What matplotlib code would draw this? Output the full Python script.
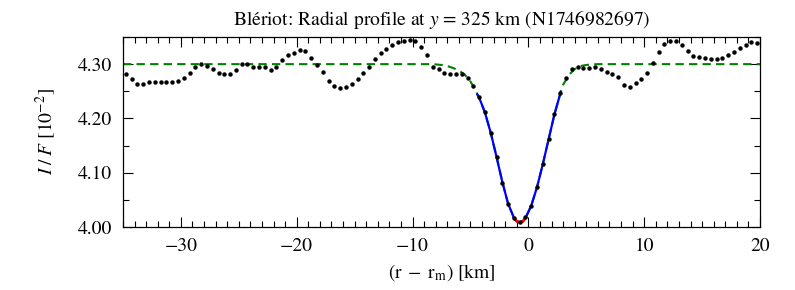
import matplotlib
matplotlib.use("Agg")
from matplotlib import pyplot as plt
from matplotlib.ticker import MultipleLocator, FormatStrFormatter
import numpy as np

plt.rcParams['font.family'] = ['STIXGeneral', 'Liberation Serif', 'DejaVu Serif']
plt.rcParams['mathtext.fontset'] = 'stix'
plt.rcParams['axes.unicode_minus'] = True

# radial profile samples, every 0.5 km starting at -34.75 km
r_start = -34.75
r_step = 0.5
profile = [
    4.2816, 4.2724, 4.2632, 4.2632, 4.2663, 4.2663, 4.2663, 4.2663, 4.2670, 4.2693,
    4.2742, 4.2829, 4.2939, 4.2995, 4.2963, 4.2902, 4.2840, 4.2822, 4.2816, 4.2896,
    4.2995, 4.3007, 4.2951, 4.2951, 4.2939, 4.2890, 4.2939, 4.3074, 4.3166, 4.3200,
    4.3260, 4.3245, 4.3120, 4.2985, 4.2850, 4.2693, 4.2595, 4.2564, 4.2571, 4.2632,
    4.2724, 4.2840, 4.2951, 4.3098, 4.3203, 4.3276, 4.3350, 4.3411, 4.3423, 4.3442,
    4.3429, 4.3307, 4.3166, 4.2939, 4.2905, 4.2840, 4.2810, 4.2810, 4.2816, 4.2737,
    4.2595, 4.2398, 4.2122, 4.1736, 4.1294, 4.0815, 4.0423, 4.0171, 4.0086, 4.0177,
    4.0392, 4.0734, 4.1160, 4.1620, 4.2080, 4.2467, 4.2746, 4.2912, 4.2948, 4.2935,
    4.2935, 4.2951, 4.2902, 4.2847, 4.2816, 4.2755, 4.2614, 4.2571, 4.2645, 4.2730,
    4.2840, 4.3024, 4.3227, 4.3368, 4.3429, 4.3429, 4.3350, 4.3245, 4.3153, 4.3123,
    4.3111, 4.3098, 4.3086, 4.3117, 4.3166, 4.3227, 4.3301, 4.3350, 4.3399, 4.3381,
]

# fitted crater profile (blue)
fit_x = [-4.4, -4.25, -3.75, -3.25, -2.75, -2.25, -1.75, -1.25, -1.0, -0.75,
         -0.5, -0.25, 0.25, 0.75, 1.25, 1.75, 2.25, 2.8]
fit_y = [4.2440, 4.2385, 4.2110, 4.1736, 4.1294, 4.0830, 4.0430, 4.0170, 4.0105, 4.0085,
         4.0100, 4.0165, 4.0395, 4.0736, 4.1160, 4.1620, 4.2075, 4.2490]

# minimum region (red)
min_x = [-1.25, -1.0, -0.75, -0.5, -0.2]
min_y = [4.0170, 4.0105, 4.0085, 4.0100, 4.0175]

# model outside the fit window (green dashed)
left_x = [-35.0, -8.5, -8.0, -7.5, -7.0, -6.5, -6.0, -5.5, -5.0, -4.5]
left_y = [4.300, 4.300, 4.2995, 4.2985, 4.2965, 4.2930, 4.2880, 4.2810, 4.2680, 4.2500]
right_x = [3.0, 3.5, 4.0, 4.5, 5.0, 5.5, 6.0, 20.0]
right_y = [4.2620, 4.2800, 4.2910, 4.2965, 4.2985, 4.2995, 4.300, 4.300]

r = r_start + r_step * np.arange(len(profile))
model_x = left_x + fit_x + right_x
model_y = left_y + fit_y + right_y

fig = plt.figure(figsize=(7.95, 2.9), dpi=100)
ax = fig.add_axes([0.1547, 0.2172, 0.8013, 0.6552])

ax.plot(model_x, model_y, color='green', lw=1.5, dashes=(4, 2.5), zorder=2)
ax.plot(fit_x, fit_y, color='blue', lw=1.6, zorder=3)
ax.plot(min_x, min_y, color='red', lw=2.0, zorder=4)
ax.plot(r, profile, 'o', color='black', ms=3.2, mec='none', zorder=5)

ax.set_xlim(-35, 20)
ax.set_ylim(4.00, 4.35)
ax.xaxis.set_major_locator(MultipleLocator(10))
ax.xaxis.set_minor_locator(MultipleLocator(1))
ax.yaxis.set_major_locator(MultipleLocator(0.1))
ax.yaxis.set_minor_locator(MultipleLocator(0.05))
ax.yaxis.set_major_formatter(FormatStrFormatter('%.2f'))
ax.tick_params(which='both', direction='in', top=True, right=True, labelsize=14)
ax.tick_params(which='major', length=7, width=0.8, pad=8)
ax.tick_params(which='minor', length=4, width=0.8)
for s in ax.spines.values():
    s.set_linewidth(0.9)

ax.set_xlabel(r'$(\mathrm{r}\;-\;\mathrm{r}_\mathrm{m})$ [km]', fontsize=14, labelpad=5)
ax.set_ylabel(r'$I\;/\;F$ [$10^{-2}$]', fontsize=14, labelpad=14)
ax.set_title(r'Blériot: Radial profile at $y$ = 325 km (N1746982697)', fontsize=14, pad=9)

fig.savefig('out.png', dpi=100)
